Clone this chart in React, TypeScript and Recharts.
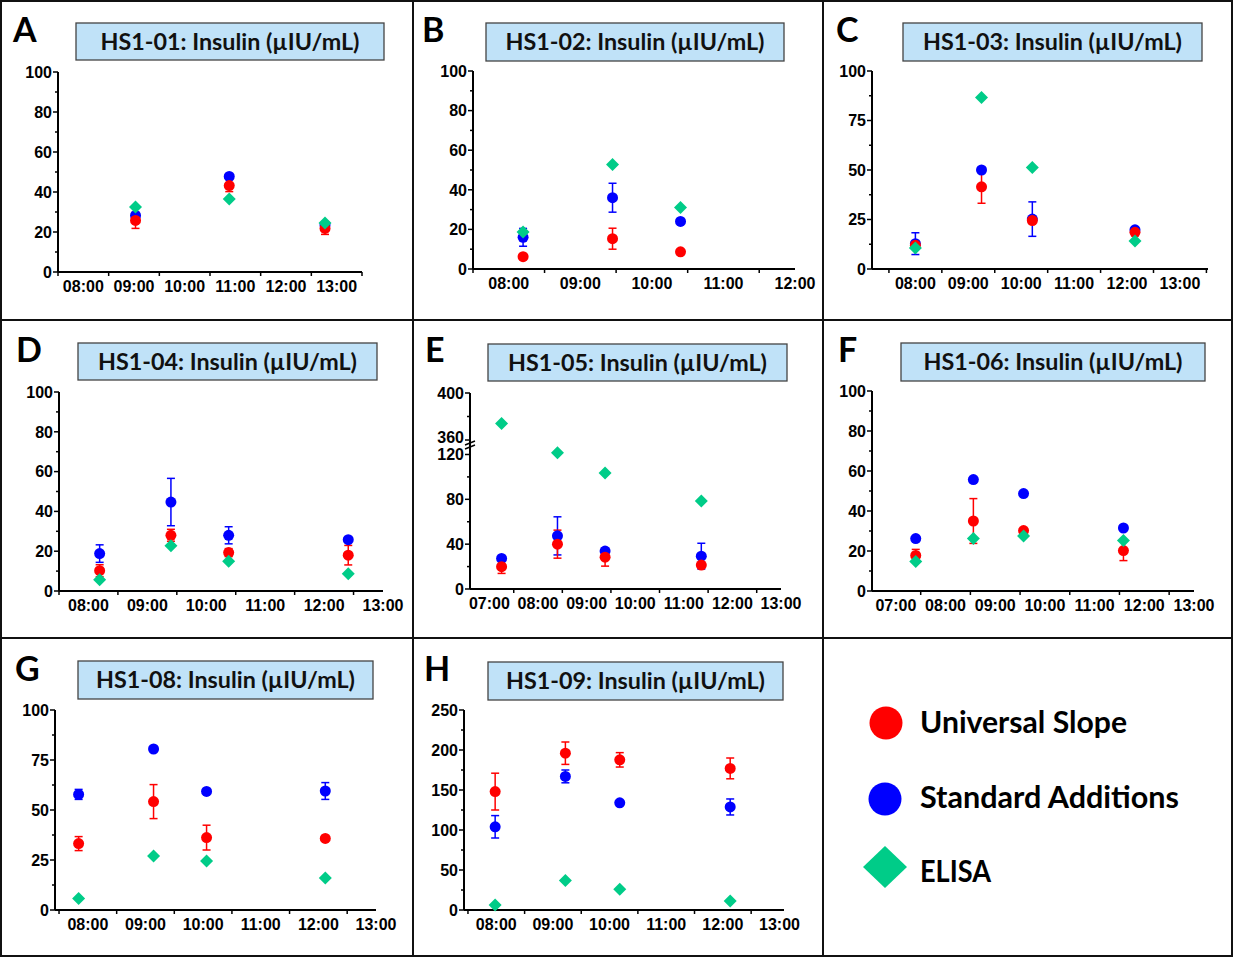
import React from "react";
import {ErrorBar, Scatter, ScatterChart, XAxis, YAxis} from "recharts";

const RED = "#ff0000";
const BLUE = "#0000ff";
const GREEN = "#00cc88";

const subjects = ["HS1-01", "HS1-02", "HS1-03", "HS1-04", "HS1-05", "HS1-06", "HS1-08", "HS1-09"];
const letters = ["A", "B", "C", "D", "E", "F", "G", "H"];
const legendLabels = ["Universal Slope", "Standard Additions", "ELISA"];

// sample times in hours of the day, values in µIU/mL
const timesA = [9.03, 10.88, 12.77];
const slopeA = [25.8, 43.2, 21.8];
const slopeErrA = [4, 3, 3];
const addA = [28.3, 47.8, 23.5];
const addErrA = [0, 0, 0];
const elisaA = [32.5, 36.5, 24.5];

const timesB = [8.2, 9.45, 10.4];
const slopeB = [6.2, 15.3, 8.7];
const slopeErrB = [0, 5.3, 0];
const addB = [16, 36, 24];
const addErrB = [4.5, 7.3, 0];
const elisaB = [18.7, 52.8, 31.1];

const timesC = [8.0, 9.25, 10.21, 12.15];
const slopeC = [12, 41.5, 24.5, 18.5];
const slopeErrC = [0, 8.3, 0, 0];
const addC = [12.8, 50, 25.2, 19.8];
const addErrC = [5.5, 0, 8.7, 0];
const elisaC = [10.6, 86.6, 51.3, 14.1];

const timesD = [8.19, 9.4, 10.38, 12.41];
const slopeD = [10.2, 28, 19.3, 18];
const slopeErrD = [3, 3, 2, 4.9];
const addD = [18.8, 44.7, 28, 25.8];
const addErrD = [4.4, 11.9, 4.3, 0];
const elisaD = [5.7, 22.8, 15, 8.7];

const timesE = [7.25, 8.4, 9.38, 11.36];
const slopeE = [19.9, 40, 28.4, 21.3];
const slopeErrE = [6, 12.5, 8, 0];
const addE = [27.3, 47.4, 33.8, 29.3];
const addErrE = [0, 17, 2, 11.5];
const elisaE = [374, 121.5, 103.4, 78.5];

const timesF = [7.4, 8.56, 9.57, 11.58];
const slopeF = [17.8, 35, 30.2, 20.2];
const slopeErrF = [3, 11.2, 0, 5];
const addF = [26.2, 55.7, 48.7, 31.5];
const addErrF = [0, 0, 0, 0];
const elisaF = [14.8, 26.2, 27.5, 25.3];

const timesG = [7.84, 9.14, 10.06, 12.12];
const slopeG = [33.2, 54.2, 36.2, 35.8];
const slopeErrG = [3.5, 8.5, 6.2, 0];
const addG = [57.8, 80.5, 59.3, 59.5];
const addErrG = [2.5, 0, 0, 4.2];
const elisaG = [5.8, 27, 24.5, 16];

const timesH = [7.98, 9.22, 10.18, 12.13];
const slopeH = [148, 196, 187.7, 177];
const slopeErrH = [23, 14, 9, 13];
const addH = [104, 167, 134, 128.8];
const addErrH = [14, 8, 0, 10];
const elisaH = [6.3, 36.8, 26, 11.3];

// tick labels
const hours8to13 = [8, 9, 10, 11, 12, 13];
const hours8to12 = [8, 9, 10, 11, 12];
const hours7to13 = [7, 8, 9, 10, 11, 12, 13];
const y100by20 = [0, 20, 40, 60, 80, 100];
const y100by25 = [0, 25, 50, 75, 100];
const y250by50 = [0, 50, 100, 150, 200, 250];
const yLowE = [0, 40, 80, 120];
const yHighE = [360, 400];

type Series = {
  times: number[]; slope: number[]; slopeErr: number[];
  add: number[]; addErr: number[]; elisa: number[];
};

const TICK_FONT = "'Liberation Sans', Arial, Helvetica, sans-serif";
const titleFont = "Lato, 'Open Sans', sans-serif";

const fmtHour = (h: number) => `${h < 10 ? "0" : ""}${h}:00`;

// majors plus the half-way minor ticks
const withMinors = (majors: number[]) => {
  const out: number[] = [];
  majors.forEach((m, i) => {
    out.push(m);
    if (i < majors.length - 1) out.push((m + majors[i + 1]) / 2);
  });
  return out;
};

const xTicksFor = (hours: number[], domain: number[]) => {
  const all = [hours[0] - 0.5, ...withMinors(hours), hours[hours.length - 1] + 0.5];
  return all.filter((t) => t >= domain[0] - 1e-6 && t <= domain[1] + 1e-6);
};

const XTick = (p: any) => {
  const {x, y, payload} = p;
  const v = payload.value;
  if (Number.isInteger(v)) {
    return (
      <text x={x} y={y + 14} dy="0.36em" textAnchor="middle" fontFamily={TICK_FONT} fontWeight="bold"
            fontSize={16} fill="#000">
        {fmtHour(v)}
      </text>
    );
  }
  return <line x1={x} x2={x} y1={y} y2={y + 4} stroke="#000" strokeWidth={1.5}/>;
};

const makeYTick = (majors: number[], shift = 0) => (p: any) => {
  const {x, y, payload} = p;
  const major = majors.includes(payload.value);
  return (
    <g>
      <line x1={x - (major ? 5 : 3)} x2={x} y1={y} y2={y} stroke="#000" strokeWidth={1.5}/>
      {major && (
        <text x={x - 6} y={y + (payload.value === majors[0] ? shift : 0)} dy="0.36em" textAnchor="end"
              fontFamily={TICK_FONT} fontWeight="bold" fontSize={16} fill="#000">
          {payload.value}
        </text>
      )}
    </g>
  );
};

const dot = (color: string) => (p: any) => <circle cx={p.cx} cy={p.cy} r={5.5} fill={color}/>;
const diamond = (p: any) => (
  <polygon
    points={`${p.cx},${p.cy - 6.5} ${p.cx + 6.5},${p.cy} ${p.cx},${p.cy + 6.5} ${p.cx - 6.5},${p.cy}`}
    fill={GREEN}
  />
);

interface PlotProps {
  left: number; top: number; width: number; height: number;
  plotLeft: number; plotRight: number; plotTop: number; plotBottom: number;
  xDomain: number[]; hours: number[];
  yDomain: number[]; yMajor: number[];
  s: Series; showX?: boolean; keep?: (v: number) => boolean; bottomLabelShift?: number;
}

const Plot: React.FC<PlotProps> = (props) => {
  const {left, top, width, height, plotLeft, plotRight, plotTop, plotBottom, s} = props;
  const showX = props.showX !== false;
  const keep = props.keep || (() => true);
  const rows = (vals: number[], errs?: number[]) =>
    s.times.map((x, i) => ({x, y: vals[i], err: errs ? errs[i] : 0})).filter((r) => keep(r.y));

  return (
    <div style={{position: "absolute", left, top}}>
      <ScatterChart
        width={width}
        height={height}
        margin={{
          top: plotTop,
          left: plotLeft - 40,
          right: width - plotRight,
          bottom: showX ? height - plotBottom - 30 : height - plotBottom,
        }}
      >
        <XAxis
          type="number"
          dataKey="x"
          domain={props.xDomain}
          ticks={xTicksFor(props.hours, props.xDomain)}
          interval={0}
          hide={!showX}
          height={30}
          axisLine={{stroke: "#000", strokeWidth: 2}}
          tickLine={false}
          tickSize={0}
          tickMargin={0}
          tick={XTick}
        />
        <YAxis
          type="number"
          dataKey="y"
          domain={props.yDomain}
          ticks={withMinors(props.yMajor)}
          interval={0}
          width={40}
          axisLine={{stroke: "#000", strokeWidth: 2}}
          tickLine={false}
          tickSize={0}
          tickMargin={0}
          tick={makeYTick(props.yMajor, props.bottomLabelShift || 0)}
        />
        <Scatter data={rows(s.add, s.addErr)} fill={BLUE} shape={dot(BLUE)} isAnimationActive={false}>
          <ErrorBar dataKey="err" direction="y" width={4} stroke={BLUE} strokeWidth={1.5} isAnimationActive={false}/>
        </Scatter>
        <Scatter data={rows(s.slope, s.slopeErr)} fill={RED} shape={dot(RED)} isAnimationActive={false}>
          <ErrorBar dataKey="err" direction="y" width={4} stroke={RED} strokeWidth={1.5} isAnimationActive={false}/>
        </Scatter>
        <Scatter data={rows(s.elisa)} fill={GREEN} shape={diamond} isAnimationActive={false}/>
      </ScatterChart>
    </div>
  );
};

const series: Series[] = [
  {times: timesA, slope: slopeA, slopeErr: slopeErrA, add: addA, addErr: addErrA, elisa: elisaA},
  {times: timesB, slope: slopeB, slopeErr: slopeErrB, add: addB, addErr: addErrB, elisa: elisaB},
  {times: timesC, slope: slopeC, slopeErr: slopeErrC, add: addC, addErr: addErrC, elisa: elisaC},
  {times: timesD, slope: slopeD, slopeErr: slopeErrD, add: addD, addErr: addErrD, elisa: elisaD},
  {times: timesE, slope: slopeE, slopeErr: slopeErrE, add: addE, addErr: addErrE, elisa: elisaE},
  {times: timesF, slope: slopeF, slopeErr: slopeErrF, add: addF, addErr: addErrF, elisa: elisaF},
  {times: timesG, slope: slopeG, slopeErr: slopeErrG, add: addG, addErr: addErrG, elisa: elisaG},
  {times: timesH, slope: slopeH, slopeErr: slopeErrH, add: addH, addErr: addErrH, elisa: elisaH},
];

const colX = [0, 413, 823];
const rowY = [0, 320, 638];

// title boxes: x, y, w, h (page coords)
const titleBoxes = [
  [76, 23, 308, 37], [486, 23, 298, 38], [903, 23, 299, 38],
  [78, 343, 299, 37], [488, 344, 299, 37], [901, 343, 304, 38],
  [78, 661, 295, 38], [488, 662, 295, 38],
];
const letterPos = [
  [13, 42], [422, 42], [836, 42],
  [16, 362], [425, 362], [838, 362],
  [15, 681], [424, 681],
];

export default function App() {
  const W = 410;
  const H = 318;
  return (
    <div style={{position: "absolute", left: 0, top: 0, width: 1233, height: 957, background: "#fff"}}>
      <Plot left={colX[0]} top={rowY[0]} width={413} height={H} plotLeft={58} plotRight={362} plotTop={72}
            plotBottom={272} xDomain={[7.5, 13.5]} hours={hours8to13} yDomain={[0, 100]} yMajor={y100by20}
            s={series[0]}/>
      <Plot left={colX[1]} top={rowY[0]} width={W} height={H} plotLeft={60} plotRight={382} plotTop={71}
            plotBottom={269} xDomain={[7.5, 12]} hours={hours8to12} yDomain={[0, 100]} yMajor={y100by20}
            s={series[1]}/>
      <Plot left={colX[2]} top={rowY[0]} width={W} height={H} plotLeft={49} plotRight={385} plotTop={71}
            plotBottom={269} xDomain={[7.18, 13.53]} hours={hours8to13} yDomain={[0, 100]} yMajor={y100by25}
            s={series[2]}/>
      <Plot left={colX[0]} top={rowY[1]} width={413} height={H} plotLeft={59} plotRight={383} plotTop={72}
            plotBottom={271} xDomain={[7.5, 13]} hours={hours8to13} yDomain={[0, 100]} yMajor={y100by20}
            s={series[3]}/>
      {/* broken axis: upper part 360-400, lower part 0-124 */}
      <Plot left={colX[1]} top={rowY[1]} width={W} height={140} plotLeft={57} plotRight={368} plotTop={73}
            plotBottom={120} xDomain={[6.6, 13]} hours={hours7to13} yDomain={[360, 400]} yMajor={yHighE}
            s={series[4]} showX={false} keep={(v) => v > 200} bottomLabelShift={-3}/>
      <Plot left={colX[1]} top={rowY[1]} width={W} height={H} plotLeft={57} plotRight={368} plotTop={130}
            plotBottom={269} xDomain={[6.6, 13]} hours={hours7to13} yDomain={[0, 124]} yMajor={yLowE}
            s={series[4]} keep={(v) => v < 200}/>
      <Plot left={colX[2]} top={rowY[1]} width={W} height={H} plotLeft={49} plotRight={371} plotTop={71}
            plotBottom={271} xDomain={[6.52, 13]} hours={hours7to13} yDomain={[0, 100]} yMajor={y100by20}
            s={series[5]}/>
      <Plot left={colX[0]} top={rowY[2]} width={413} height={H} plotLeft={55} plotRight={376} plotTop={72}
            plotBottom={272} xDomain={[7.43, 13]} hours={hours8to13} yDomain={[0, 100]} yMajor={y100by25}
            s={series[6]}/>
      <Plot left={colX[1]} top={rowY[2]} width={W} height={H} plotLeft={51} plotRight={371} plotTop={72}
            plotBottom={272} xDomain={[7.43, 13.08]} hours={hours8to13} yDomain={[0, 250]} yMajor={y250by50}
            s={series[7]}/>

      <svg width={1233} height={957} style={{position: "absolute", left: 0, top: 0, pointerEvents: "none"}}>
        <rect x={1} y={1} width={1231} height={955} fill="none" stroke="#111" strokeWidth={2}/>
        <line x1={413} x2={413} y1={0} y2={957} stroke="#111" strokeWidth={2}/>
        <line x1={823} x2={823} y1={0} y2={957} stroke="#111" strokeWidth={2}/>
        <line x1={0} x2={1233} y1={320} y2={320} stroke="#111" strokeWidth={2}/>
        <line x1={0} x2={1233} y1={638} y2={638} stroke="#111" strokeWidth={2}/>

        {titleBoxes.map(([x, y, w, h], i) => (
          <g key={subjects[i]}>
            <rect x={x} y={y} width={w} height={h} fill="#c0e2f8" stroke="#444" strokeWidth={1.3}/>
            <text x={x + w / 2} y={y + h / 2 + 8} textAnchor="middle" textLength={259}
                  lengthAdjust="spacingAndGlyphs"
                  style={{fontFamily: titleFont, fontWeight: 700, fontSize: 22, fill: "#111"}}>
              {`${subjects[i]}: Insulin (\u00b5IU/mL)`}
            </text>
          </g>
        ))}
        {letterPos.map(([x, y], i) => (
          <text key={letters[i]} x={x} y={y}
                style={{fontFamily: titleFont, fontWeight: 700, fontSize: 34, fill: "#000"}}>
            {letters[i]}
          </text>
        ))}

        {/* axis break on panel E */}
        <line x1={470} x2={470} y1={440} y2={450} stroke="#000" strokeWidth={2}/>
        <line x1={465} x2={475} y1={445} y2={441} stroke="#000" strokeWidth={1.5}/>
        <line x1={465} x2={475} y1={449} y2={445} stroke="#000" strokeWidth={1.5}/>

        {/* legend */}
        <circle cx={886} cy={723} r={16.5} fill={RED}/>
        <circle cx={885} cy={799} r={16.5} fill={BLUE}/>
        <polygon points="885,846 907,867 885,888 863,867" fill={GREEN}/>
        {[733, 808, 882].map((y, i) => (
          <text key={legendLabels[i]} x={920} y={y} textLength={[207, 259, 71][i]} lengthAdjust="spacingAndGlyphs"
                style={{fontFamily: titleFont, fontWeight: 700, fontSize: 30, fill: "#000"}}>
            {legendLabels[i]}
          </text>
        ))}
      </svg>
    </div>
  );
}
